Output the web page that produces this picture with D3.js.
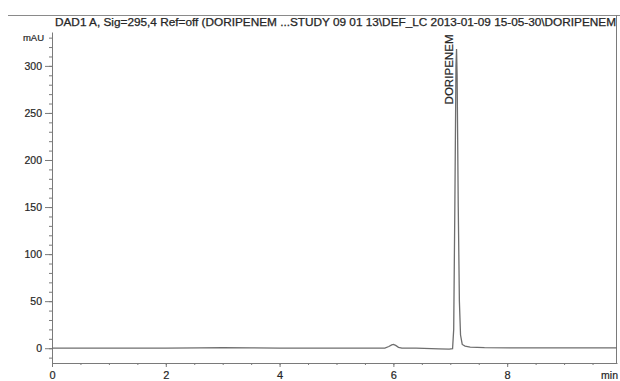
<!DOCTYPE html>
<html>
<head>
<meta charset="utf-8">
<script src="https://cdn.jsdelivr.net/npm/d3@7"></script>
<style>
	body { margin: 0; background: #fff; }
	svg { display: block; font-family: Arial, "Liberation Sans", sans-serif; }
</style>
</head>
<body>
<div id="app"></div>
<script>
// chromatogram trace: retention time (min) / signal (mAU)
const traceTime = [0, 1, 2, 2.6, 3, 3.5, 4, 5, 5.85, 5.92, 5.97, 6.0, 6.04, 6.09, 6.15, 6.4, 6.8, 6.98, 7.04, 7.06, 7.08, 7.1, 7.11, 7.12, 7.14, 7.16, 7.18, 7.21, 7.26, 7.35, 7.6, 8.5, 9.93];
const traceMau  = [0, 0, 0.2, 0.4, 0.5, 0.4, 0.2, 0, 0.2, 1.8, 3.6, 4, 3, 1, 0.2, 0, -0.6, -1, -0.5, 20, 150, 300, 318, 290, 150, 50, 14, 4, 2.2, 1.2, 0.6, 0.3, 0.3];

const xTicks = [0, 2, 4, 6, 8];
const yTicks = [0, 50, 100, 150, 200, 250, 300];

const peakNames = ["DORIPENEM"];
const peakTimes = [7.11];

const titleText = "DAD1 A, Sig=295,4 Ref=off (DORIPENEM ...STUDY 09 01 13\\DEF_LC 2013-01-09 15-05-30\\DORIPENEM";

const config = {
	width: 620,
	height: 381,
	margin: { top: 32, right: 3, bottom: 18, left: 52 },
	color: {
		axis: "#7a7a7a",
		trace: "#6e6e6e",
		text: "#262626"
	}
}

function render() {
	const m = config.margin;
	const svg = d3.select("#app").append("svg")
		.attr("width", config.width)
		.attr("height", config.height)

	const x = d3.scaleLinear()
		.domain([0, 9.93])
		.range([m.left, config.width - m.right])

	const y = d3.scaleLinear()
		.domain([-15.7, 336])
		.range([config.height - m.bottom, m.top])

	// header rule and frame
	svg.append("line")
		.attr("x1", 8).attr("x2", config.width)
		.attr("y1", 15.5).attr("y2", 15.5)
		.attr("stroke", "#8a8a8a")
		.attr("stroke-width", 1.2)

	svg.append("line")
		.attr("x1", x(9.93) - 0.5).attr("x2", x(9.93) - 0.5)
		.attr("y1", 15).attr("y2", y(-15.7))
		.attr("stroke", config.color.axis)

	svg.append("text")
		.attr("x", 55)
		.attr("y", 26)
		.attr("font-size", 10)
		.attr("fill", config.color.text)
		.attr("stroke", config.color.text)
		.attr("stroke-width", 0.25)
		.attr("textLength", 561)
		.attr("lengthAdjust", "spacingAndGlyphs")
		.text(titleText)

	// y axis, minor then major
	svg.append("g")
		.attr("transform", `translate(${m.left},0)`)
		.call(d3.axisLeft(y).tickValues(d3.range(-10, 336, 10)).tickSize(3).tickFormat(""))
		.call(g => g.select(".domain").remove())
		.call(g => g.selectAll("line").attr("stroke", config.color.axis))

	svg.append("g")
		.attr("transform", `translate(${m.left},0)`)
		.call(d3.axisLeft(y).tickValues(yTicks).tickSize(7).tickSizeOuter(0).tickPadding(3))
		.call(g => g.select(".domain").attr("stroke", config.color.axis))
		.call(g => g.selectAll("line").attr("stroke", config.color.axis))
		.call(g => g.selectAll("text").attr("font-size", 10.5).attr("fill", config.color.text)
			.attr("stroke", config.color.text).attr("stroke-width", 0.2))

	// x axis
	svg.append("g")
		.attr("transform", `translate(0,${y(-15.7)})`)
		.call(d3.axisBottom(x).tickValues(d3.range(0.5, 9.93, 0.5)).tickSize(2).tickFormat(""))
		.call(g => g.select(".domain").remove())
		.call(g => g.selectAll("line").attr("stroke", config.color.axis))

	svg.append("g")
		.attr("transform", `translate(0,${y(-15.7)})`)
		.call(d3.axisBottom(x).tickValues(xTicks).tickSize(4).tickSizeOuter(0).tickPadding(4))
		.call(g => g.select(".domain").attr("stroke", config.color.axis))
		.call(g => g.selectAll("line").attr("stroke", config.color.axis))
		.call(g => g.selectAll("text").attr("font-size", 11).attr("fill", config.color.text)
			.attr("stroke", config.color.text).attr("stroke-width", 0.2))

	svg.append("text")
		.attr("x", 44)
		.attr("y", y(330) + 3.5)
		.attr("text-anchor", "end")
		.attr("font-size", 9.5)
		.attr("fill", config.color.text)
		.attr("stroke", config.color.text)
		.attr("stroke-width", 0.2)
		.text("mAU")

	svg.append("text")
		.attr("x", config.width - 2)
		.attr("y", config.height - 2)
		.attr("text-anchor", "end")
		.attr("font-size", 10.5)
		.attr("fill", config.color.text)
		.attr("stroke", config.color.text)
		.attr("stroke-width", 0.2)
		.text("min")

	// trace
	const line = d3.line()
		.x((d, i) => x(traceTime[i]))
		.y(d => y(d))

	svg.append("path")
		.datum(traceMau)
		.attr("fill", "none")
		.attr("stroke", config.color.trace)
		.attr("stroke-width", 1.3)
		.attr("d", line)

	// peak labels
	peakNames.forEach((name, i) => {
		svg.append("text")
			.attr("transform", `translate(${x(peakTimes[i]) - 4},${y(259)}) rotate(-90)`)
			.attr("font-size", 10)
			.attr("fill", config.color.text)
			.attr("stroke", config.color.text)
			.attr("stroke-width", 0.2)
			.attr("textLength", 70)
			.attr("lengthAdjust", "spacingAndGlyphs")
			.text(name)
	});
}

document.addEventListener("DOMContentLoaded", render);
</script>
</body>
</html>
